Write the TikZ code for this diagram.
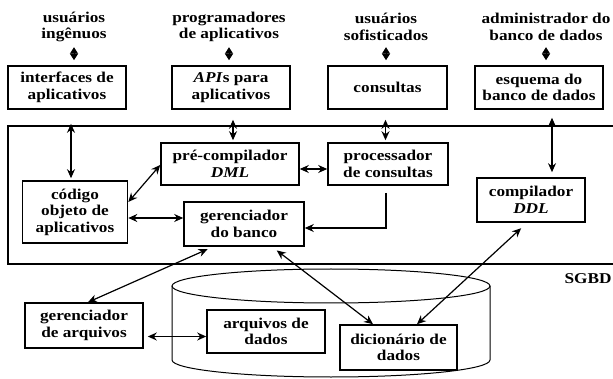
\documentclass[tikz,border=0pt]{standalone}
\usepackage{fontspec}
\setmainfont{Liberation Serif}[FakeStretch=1.15]
\usetikzlibrary{arrows.meta}

\tikzset{
  caixa/.style={draw, line width=1.6pt, align=center, inner sep=1pt,
    font=\fontsize{15}{16.5}\selectfont\bfseries},
  rotulo/.style={align=center, inner sep=0pt,
    font=\fontsize{15}{16.5}\selectfont\bfseries},
  seta/.style={line width=1.2pt,
    {Stealth[length=9pt,width=8pt]}-{Stealth[length=9pt,width=8pt]}},
  ponta/.style={line width=1.2pt, -{Stealth[length=9pt,width=8pt]}},
  losango/.style={line width=1pt,
    {Triangle[length=6.5pt,width=8pt]}-{Triangle[length=6.5pt,width=8pt]},
    shorten >=5pt},
}

\begin{document}
\begin{tikzpicture}[x=1pt, y=-1pt]
\useasboundingbox (0,0) rectangle (613,379);

% disco
\draw [line width=1pt] (172,286) -- (172,360)
  arc [start angle=180, end angle=360, x radius=159pt, y radius=17pt] -- (490,286);
\draw [line width=1pt] (331,286) ellipse [x radius=159pt, y radius=17pt];

% SGBD
\draw [line width=1.4pt] (613,126) -- (8,126) -- (8,264) -- (613,264);
\node [rotulo] (sgbd) at (588,279) {SGBD};

% usuarios
\node [rotulo] (ingenuos) at (74,27) {usuários\\ingênuos};
\node [rotulo] (programadores) at (229,27) {programadores\\de aplicativos};
\node [rotulo] (sofisticados) at (386,27) {usuários\\sofisticados};
\node [rotulo] (administrador) at (546,27) {administrador do\\banco de dados};

\node [caixa, minimum width=118pt, minimum height=43pt] (interfaces) at (67,87.5) {interfaces de\\aplicativos};
\node [caixa, minimum width=118pt, minimum height=43pt] (apis) at (231,87.5) {\textit{API}s para\\aplicativos};
\node [caixa, minimum width=119pt, minimum height=43pt] (consultas) at (387.5,87.5) {consultas};
\node [caixa, minimum width=128pt, minimum height=43pt] (esquema) at (539,87.5) {esquema do\\banco de dados};

\node [caixa, minimum width=138pt, minimum height=42pt] (precomp) at (230,164) {pré-compilador\\\textit{DML}};
\node [caixa, minimum width=120pt, minimum height=42pt] (processador) at (388,164) {processador\\de consultas};
\node [caixa, minimum width=105pt, minimum height=62pt] (codigo) at (75,212) {código\\objeto de\\aplicativos};
\node [caixa, minimum width=120pt, minimum height=44pt] (banco) at (244,224) {gerenciador\\do banco};
\node [caixa, minimum width=108pt, minimum height=44pt] (compilador) at (531,200) {compilador\\\textit{DDL}};

\node [caixa, minimum width=118pt, minimum height=45pt] (gerarq) at (84,325.5) {gerenciador\\de arquivos};
\node [caixa, minimum width=118pt, minimum height=43pt] (arquivos) at (266,331.5) {arquivos de\\dados};
\node [caixa, minimum width=117pt, minimum height=45pt] (dicionario) at (398.5,347.5) {dicionário de\\dados};

% ligacoes
\draw [losango] (ingenuos |- interfaces.north) ++(0,-18) -- (ingenuos |- interfaces.north);
\draw [losango] (programadores |- apis.north) ++(0,-18) -- (programadores |- apis.north);
\draw [losango] (sofisticados |- consultas.north) ++(0,-18) -- (sofisticados |- consultas.north);
\draw [losango] (administrador |- esquema.north) ++(0,-18) -- (administrador |- esquema.north);

\draw [seta, shorten <=14pt, shorten >=2pt] ([xshift=4pt]interfaces.south) -- ([xshift=4pt]interfaces.south |- codigo.north);
\draw [seta, shorten <=10pt, shorten >=2pt] ([xshift=2pt]apis.south) -- ([xshift=2pt]apis.south |- precomp.north);
\draw [seta, shorten <=10pt, shorten >=2pt] ([xshift=-2pt]consultas.south) -- ([xshift=-2pt]consultas.south |- processador.north);
\draw [seta, shorten <=8pt, shorten >=5pt] ([xshift=13pt]esquema.south) -- ([xshift=13pt]esquema.south |- compilador.north);

\draw [seta] ([yshift=-5pt]precomp.east) -- ([yshift=-5pt]processador.west);
\draw [seta] ([yshift=10pt]codigo.east) -- ([yshift=-1pt]precomp.west);
\draw [seta] ([yshift=-6pt]codigo.east) -- ([yshift=-6pt]codigo.east -| banco.west);
\draw [ponta, shorten <=7pt] ([xshift=-2pt]processador.south) |- ([yshift=-4pt]banco.east);

\draw [seta, shorten <=6pt] ([xshift=-31pt]banco.south) -- ([xshift=4pt]gerarq.north);
\draw [seta, shorten <=6pt] ([xshift=28pt]banco.south) -- ([xshift=-25.5pt]dicionario.north);
\draw [seta, shorten <=8pt] ([xshift=-4pt]compilador.south) -- ([xshift=18.5pt]dicionario.north);
\draw [seta, shorten <=4pt] ([yshift=-11pt]gerarq.east) -- ([yshift=-11pt]gerarq.east -| arquivos.west);
\end{tikzpicture}
\end{document}
